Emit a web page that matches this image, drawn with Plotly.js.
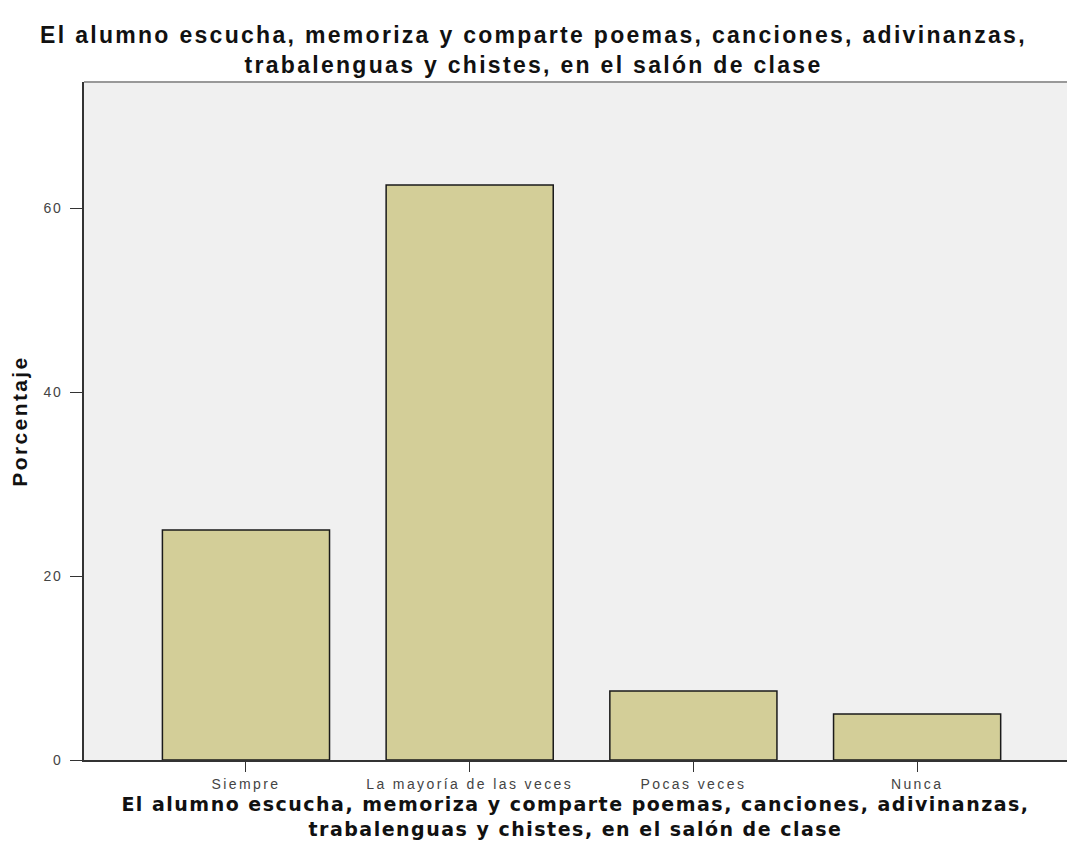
<!DOCTYPE html>
<html><head><meta charset="utf-8">
<script src="https://cdn.plot.ly/plotly-3.0.1.min.js"></script>
<style>
body{margin:0;background:#fff}#c{width:1067px;height:867px}
.gtitle{letter-spacing:2.3px}
.g-xtitle text{letter-spacing:1.5px}
.g-ytitle text{letter-spacing:2.4px}
.xtick text{letter-spacing:2.4px}
.ytick text{letter-spacing:1.5px}
</style>
</head><body><div id="c"></div>
<script>
const categories = ["Siempre", "La mayoría de las veces", "Pocas veces", "Nunca"];
const percentages = [25.0, 62.5, 7.5, 5.0];
const yTicks = [0, 20, 40, 60];
const titleText = "El alumno escucha, memoriza y comparte poemas, canciones, adivinanzas,<br>trabalenguas y chistes, en el salón de clase";

const trace = {
  type: "bar",
  x: [0, 1, 2, 3],
  y: percentages,
  width: 0.747,
  marker: {color: "#d3ce98", line: {color: "#1a1a1a", width: 1.5}},
  hoverinfo: "none"
};

const layout = {
  width: 1067, height: 867,
  margin: {l: 84, r: 0, t: 82, b: 107},
  paper_bgcolor: "#ffffff",
  plot_bgcolor: "#f0f0f0",
  showlegend: false,
  title: {text: "<b>" + titleText + "</b>", font: {family: "Liberation Sans, Arial", size: 23, color: "#111"}, x: 0.5, xanchor: "center", y: 0.95, yanchor: "top"},
  xaxis: {
    range: [-0.724, 3.67],
    tickvals: [0, 1, 2, 3],
    ticktext: categories,
    ticks: "outside", ticklen: 10, tickwidth: 1, tickcolor: "#333",
    tickfont: {family: "Liberation Sans Narrow, Liberation Sans, Arial", size: 14, color: "#444"},
    showline: true, linecolor: "#333", linewidth: 2,
    showgrid: false, zeroline: false, fixedrange: true,
    title: {text: "<b>" + titleText + "</b>", font: {family: "DejaVu Sans, Verdana", size: 19, color: "#111"}, standoff: 7}
  },
  yaxis: {
    range: [0, 73.7],
    tickvals: yTicks,
    ticks: "outside", ticklen: 12, tickwidth: 1, tickcolor: "#333",
    ticklabelstandoff: 5,
    tickfont: {family: "Liberation Sans Narrow, Liberation Sans, Arial", size: 14, color: "#444"},
    showline: true, linecolor: "#333", linewidth: 2,
    showgrid: false, zeroline: false, fixedrange: true,
    title: {text: "<b>Porcentaje</b>", font: {family: "Liberation Sans, Arial", size: 21, color: "#111"}, standoff: 10}
  },
  shapes: [{type: "line", xref: "paper", yref: "paper", x0: 0, x1: 1, y0: 1, y1: 1, line: {color: "#999", width: 2}}]
};

Plotly.newPlot("c", [trace], layout, {displayModeBar: false, staticPlot: true});
</script></body></html>
